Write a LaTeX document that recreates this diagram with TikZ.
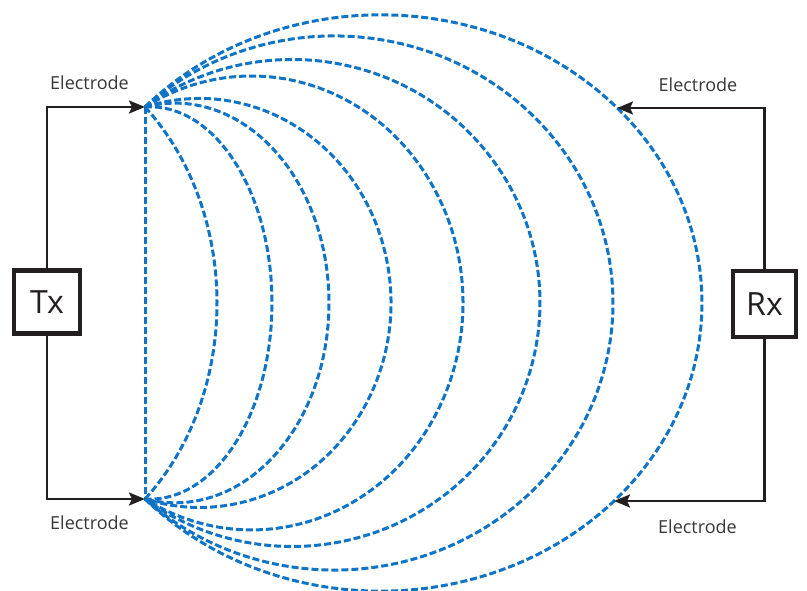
\documentclass[tikz,border=0pt]{standalone}
\usepackage{fontspec}
\setmainfont{Open Sans}
\usetikzlibrary{arrows.meta}
\definecolor{fieldblue}{RGB}{16,116,198}
\definecolor{wireblack}{RGB}{35,31,32}
\definecolor{labelgray}{RGB}{55,55,55}
\newcommand{\fieldline}[2]{%
  \pgfmathsetmacro{\fa}{#2-#1}%
  \pgfmathsetmacro{\fu}{(145-#1)/\fa}%
  \pgfmathsetmacro{\fb}{196/sqrt(1-\fu*\fu)}%
  \pgfmathsetmacro{\ft}{acos(\fu)}%
  \draw[field] (eT) arc[start angle=\ft, end angle=-\ft, x radius=\fa pt, y radius=\fb pt];%
}
\begin{document}
\begin{tikzpicture}[x=1pt,y=1pt,
  field/.style={draw=fieldblue, line width=3pt, dash pattern=on 7pt off 3pt},
  wire/.style={draw=wireblack, line width=2.3pt, -{Stealth[length=16pt,width=13pt,inset=3pt]}},
  unitbox/.style={draw=wireblack, line width=4.2pt, inner sep=0pt, text=wireblack, font=\fontsize{32}{36}\selectfont},
  elabel/.style={anchor=base, text=labelgray, font=\fontsize{18}{20}\selectfont, inner sep=0pt}]
\useasboundingbox (0,0) rectangle (807,590);
\coordinate (eT) at (145,483);
\coordinate (eB) at (145,91);
% field lines
\draw[field] (eT) -- (eB);
\fieldline{380.6}{702}
\fieldline{334.3}{613}
\fieldline{292.1}{540}
\fieldline{251.6}{463}
\fieldline{199.6}{391}
\fieldline{175}{329}
\fieldline{150}{272}
\fieldline{0}{217}
% boxes
\node[unitbox, minimum width=65.5pt, minimum height=63pt] (tx) at (47,288) {Tx};
\node[unitbox, minimum width=63pt, minimum height=66pt] (rx) at (764.5,286) {Rx};
% receiver electrodes
\coordinate (rT) at (617,482);
\coordinate (rB) at (614,89);
% wires
\draw[wire] (tx.north) |- (eT);
\draw[wire] (tx.south) |- (eB);
\draw[wire] (rx.north) |- (rT);
\draw[wire] (rx.south) |- (rB);
% labels
\node[elabel] (l1) at (89.5,500) {Electrode};
\node[elabel] (l2) at (89.5,60) {Electrode};
\node[elabel] (l3) at (698,498) {Electrode};
\node[elabel] (l4) at (697.5,57) {Electrode};
\end{tikzpicture}
\end{document}
